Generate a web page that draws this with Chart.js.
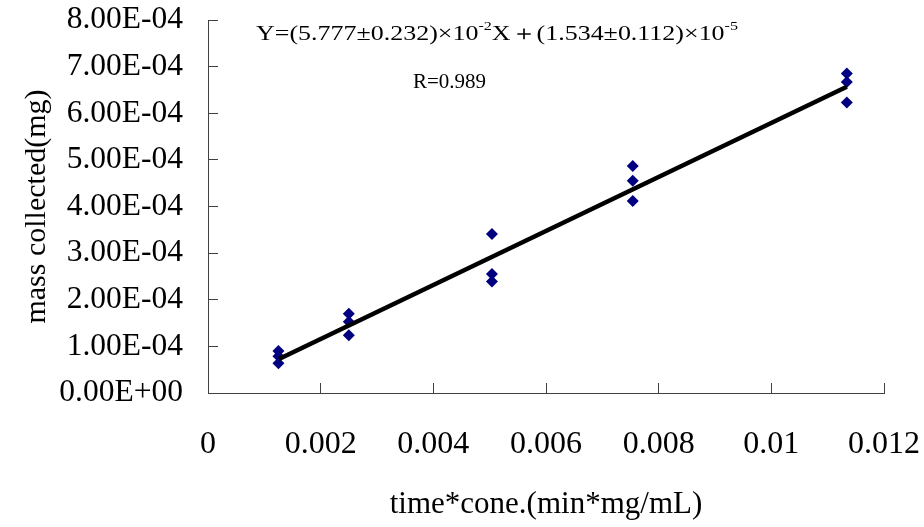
<!DOCTYPE html>
<html>
<head>
<meta charset="utf-8">
<script src="https://cdn.jsdelivr.net/npm/chart.js@4"></script>
<style>
  html, body { margin: 0; padding: 0; background: #fff; }
  #wrap { width: 924px; height: 527px; }
</style>
</head>
<body>
<div id="wrap"><canvas id="chart" width="924" height="527"></canvas></div>
<script>
const xVals = [0.00125, 0.00125, 0.00125,
               0.0025, 0.0025, 0.0025,
               0.00504, 0.00504, 0.00504,
               0.00754, 0.00754, 0.00754,
               0.01134, 0.01134, 0.01134];
const yVals = [9.0e-5, 7.9e-5, 6.4e-5,
               1.70e-4, 1.53e-4, 1.24e-4,
               3.41e-4, 2.55e-4, 2.39e-4,
               4.87e-4, 4.55e-4, 4.12e-4,
               6.85e-4, 6.67e-4, 6.23e-4];
// end points of the drawn fit line
const fitX = [0.00126, 0.01134];
const fitY = [7.3e-5, 6.57e-4];

const xMin = 0, xMax = 0.012, xStep = 0.002;
const yMin = 0, yMax = 8e-4, yStep = 1e-4;

const xTitle = 'time*cone.(min*mg/mL)';
const yTitle = 'mass collected(mg)';
const eqParts = ['Y=(5.777\u00b10.232)\u00d710', '-2', 'X\uff0b(1.534\u00b10.112)\u00d710', '-5'];
const rText = 'R=0.989';

const serif = '"Liberation Serif", "Times New Roman", serif';

function fmtY(v) {
  if (Math.abs(v) < 1e-12) return '0.00E+00';
  let s = v.toExponential(2).toUpperCase();
  let m = s.split('E');
  let e = parseInt(m[1], 10);
  let sign = e < 0 ? '-' : '+';
  let a = Math.abs(e);
  return m[0] + 'E' + sign + (a < 10 ? '0' + a : a);
}

const annotate = {
  id: 'annotate',
  afterDraw(chart) {
    const ctx = chart.ctx;
    ctx.save();
    ctx.fillStyle = '#000';
    ctx.textBaseline = 'alphabetic';
    ctx.textAlign = 'left';
    // equation is drawn in a wide font in the original, so stretch it to width
    let total = 0;
    eqParts.forEach((p, i) => {
      ctx.font = (i % 2 ? '13px ' : '21px ') + serif;
      total += ctx.measureText(p).width;
    });
    const x0 = 256, base = 40;
    ctx.translate(x0, 0);
    ctx.scale(482 / total, 1);
    let x = 0;
    eqParts.forEach((p, i) => {
      const sup = i % 2 === 1;
      ctx.font = (sup ? '13px ' : '21px ') + serif;
      ctx.fillText(p, x, sup ? base - 10 : base);
      x += ctx.measureText(p).width;
    });
    ctx.restore();
    ctx.save();
    ctx.fillStyle = '#000';
    ctx.font = '21px ' + serif;
    ctx.fillText(rText, 413, 88);
    ctx.restore();
  }
};

const points = xVals.map((x, i) => ({x: x, y: yVals[i]}));
const fitLine = fitX.map((x, i) => ({x: x, y: fitY[i]}));

new Chart(document.getElementById('chart'), {
  type: 'scatter',
  data: {
    datasets: [{
      type: 'line',
      data: fitLine,
      borderColor: '#000',
      borderWidth: 4.5,
      pointRadius: 0,
      fill: false
    }, {
      data: points,
      pointStyle: 'rectRot',
      pointRadius: 6,
      backgroundColor: '#000080',
      borderColor: '#000080',
      borderWidth: 0
    }]
  },
  options: {
    responsive: false,
    animation: false,
    devicePixelRatio: 1,
    layout: { padding: { left: 0, right: 40, top: 20, bottom: 0 } },
    plugins: { legend: { display: false }, tooltip: { enabled: false } },
    scales: {
      x: {
        type: 'linear',
        min: xMin, max: xMax,
        afterFit(scale) {
          scale.height = 134;
          scale.paddingLeft = 0;
          scale.paddingRight = 0;
        },
        ticks: {
          stepSize: xStep,
          autoSkip: false,
          maxRotation: 0,
          padding: 42,
          color: '#000',
          font: { family: serif, size: 32 },
          callback: v => String(Number(v.toFixed(3)))
        },
        grid: { display: true, drawOnChartArea: false, tickLength: -10, color: '#404040', lineWidth: 1 },
        border: { display: true, color: '#404040', width: 1 },
        title: {
          display: true, text: xTitle, color: '#000',
          font: { family: serif, size: 31 },
          padding: { top: 0, bottom: 4 }
        }
      },
      y: {
        type: 'linear',
        min: yMin, max: yMax,
        afterFit(scale) {
          scale.width = 208;
          scale.paddingTop = 0;
          scale.paddingBottom = 0;
        },
        ticks: {
          stepSize: yStep,
          autoSkip: false,
          padding: 35,
          color: '#000',
          font: { family: serif, size: 31.5 },
          callback: v => fmtY(v)
        },
        grid: { display: true, drawOnChartArea: false, tickLength: -10, color: '#404040', lineWidth: 1 },
        border: { display: true, color: '#404040', width: 1 },
        title: {
          display: true, text: yTitle, color: '#000',
          font: { family: serif, size: 30 },
          padding: { top: 19, bottom: 0 }
        }
      }
    }
  },
  plugins: [annotate]
});
</script>
</body>
</html>
